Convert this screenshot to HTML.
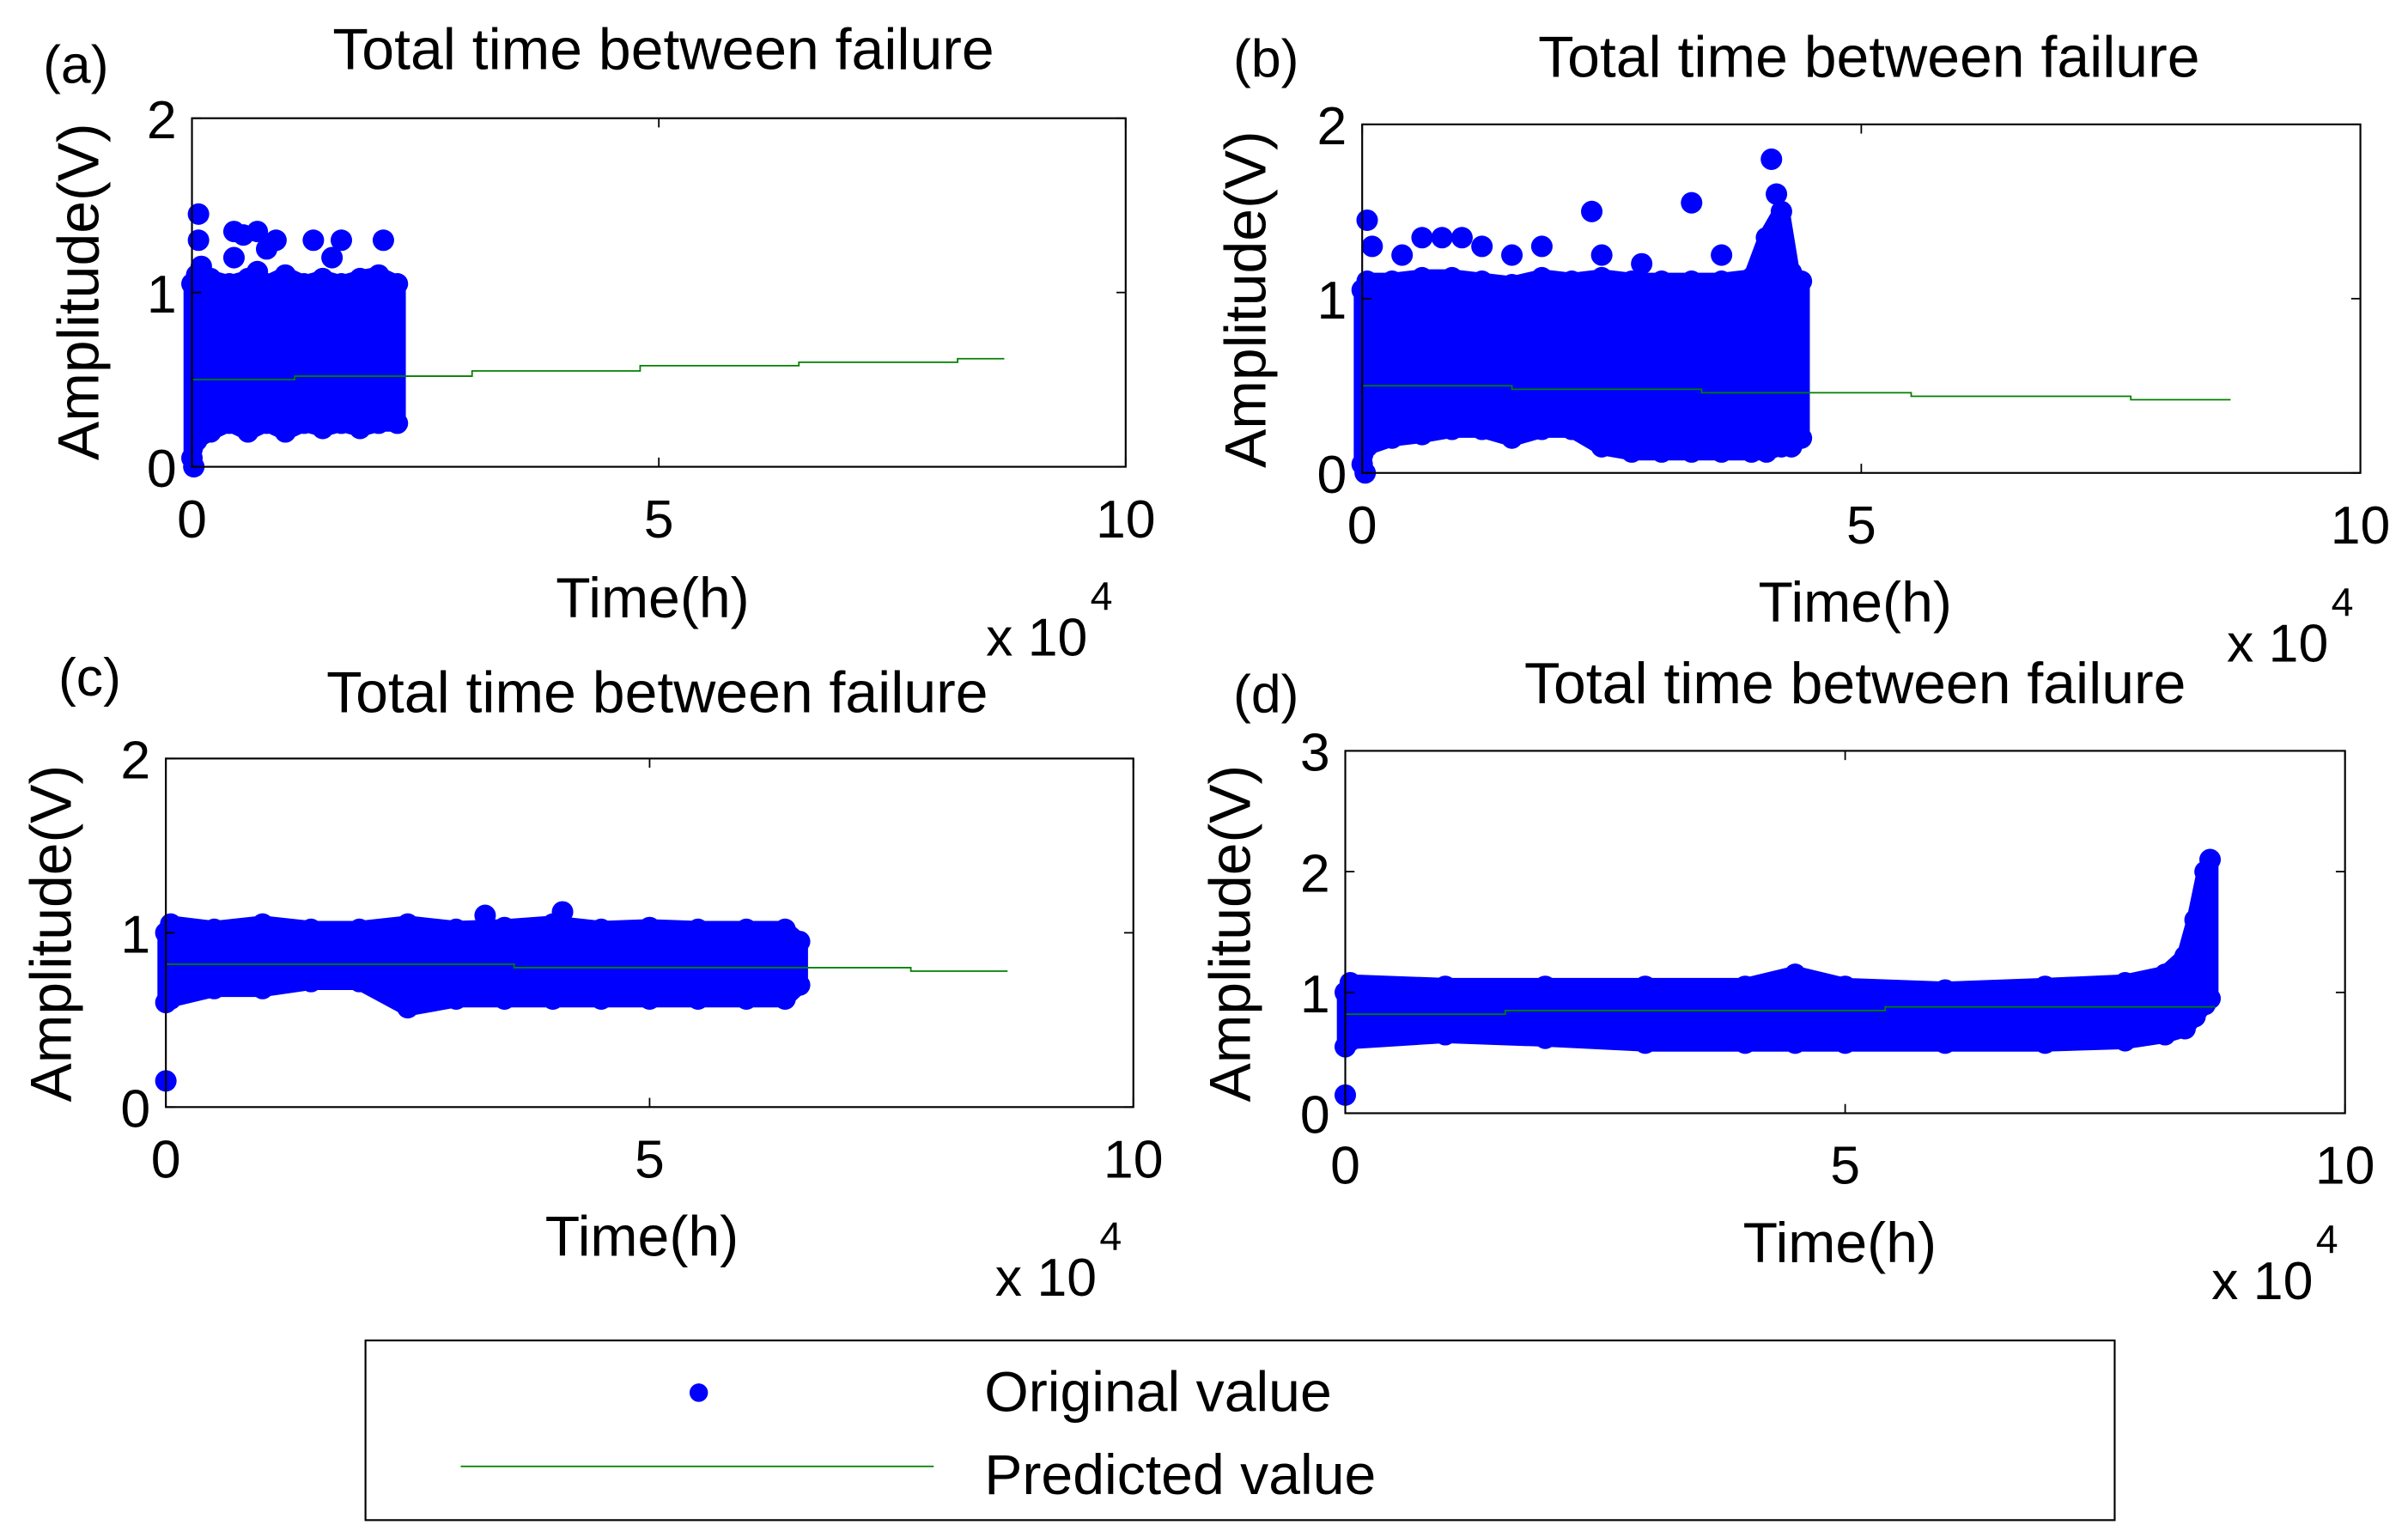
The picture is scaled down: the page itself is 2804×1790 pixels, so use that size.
<!DOCTYPE html>
<html><head><meta charset="utf-8"><style>
html,body{margin:0;padding:0;background:#fff;}
svg{display:block;}
text{font-family:"Liberation Sans",Arial,sans-serif;fill:#000;}
</style></head><body>
<svg id="fig" width="2804" height="1790" viewBox="0 0 1568 1001" preserveAspectRatio="none" xmlns="http://www.w3.org/2000/svg"></svg>
<script>
// ---- data (time in x10^4 h, amplitude in V) ----
const panelLabels = ["(a)","(b)","(c)","(d)"];
const xTicks = [0,5,10];
const yTicksA = [0,1,2];
const yTicksD = [0,1,2,3];
// band envelopes of original values
const aTime  = [0,0.05,0.2,0.4,0.6,0.8,1.0,1.2,1.4,1.6,1.8,2.0,2.2];
const aUpper = [1.05,1.1,1.08,1.05,1.08,1.05,1.1,1.05,1.08,1.05,1.08,1.1,1.05];
const aLower = [0.05,0.15,0.2,0.25,0.2,0.25,0.2,0.25,0.22,0.25,0.22,0.25,0.25];
const aOutX = [0.02,0.07,0.07,0.1,0.45,0.55,0.7,0.9,1.3,1.6,2.05,0.45,1.5,0.8,0.7];
const aOutY = [0.0,1.45,1.3,1.15,1.35,1.33,1.35,1.3,1.3,1.3,1.3,1.2,1.2,1.25,1.12];
const bTime  = [0,0.05,0.3,0.6,0.9,1.2,1.5,1.8,2.1,2.4,2.7,3.0,3.3,3.6,3.9,4.05,4.2,4.3,4.4];
const bUpper = [1.05,1.1,1.1,1.12,1.12,1.1,1.08,1.12,1.1,1.12,1.1,1.1,1.1,1.1,1.12,1.35,1.5,1.15,1.1];
const bLower = [0.05,0.15,0.2,0.22,0.25,0.25,0.2,0.25,0.25,0.15,0.12,0.12,0.12,0.12,0.12,0.12,0.15,0.15,0.2];
const bOutX = [0.03,0.05,0.1,0.4,0.6,0.8,1.0,1.2,1.5,1.8,2.3,2.4,2.8,3.3,3.6,4.1,4.15];
const bOutY = [0.0,1.45,1.3,1.25,1.35,1.35,1.35,1.3,1.25,1.3,1.5,1.25,1.2,1.55,1.25,1.8,1.6];
const cTime  = [0,0.05,0.5,1.0,1.5,2.0,2.5,3.0,3.5,4.0,4.5,5.0,5.5,6.0,6.4,6.55];
const cUpper = [1.0,1.05,1.02,1.05,1.02,1.02,1.05,1.02,1.03,1.05,1.02,1.03,1.02,1.02,1.02,0.95];
const cLower = [0.6,0.62,0.68,0.68,0.72,0.72,0.57,0.62,0.62,0.62,0.62,0.62,0.62,0.62,0.62,0.7];
const cOutX = [0.0,3.3,4.1];
const cOutY = [0.15,1.1,1.12];
const dTime  = [0,0.05,1.0,2.0,3.0,4.0,4.5,5.0,6.0,7.0,7.8,8.2,8.4,8.5,8.6,8.65];
const dUpper = [1.0,1.08,1.05,1.05,1.05,1.05,1.15,1.05,1.02,1.05,1.08,1.15,1.3,1.6,2.0,2.1];
const dLower = [0.55,0.6,0.65,0.62,0.58,0.58,0.58,0.58,0.58,0.58,0.6,0.65,0.7,0.8,0.9,0.95];
const dOutX = [0.0];
const dOutY = [0.15];
// predicted step lines (breakpoints and values)
const aPredX = [0,1.1,3.0,4.8,6.5,8.2,8.7];
const aPredY = [0.5,0.52,0.55,0.58,0.6,0.62];
const bPredX = [0,1.5,3.4,5.5,7.7,8.7];
const bPredY = [0.5,0.48,0.46,0.44,0.42];
const cPredX = [0,3.6,7.7,8.7];
const cPredY = [0.82,0.8,0.78];
const dPredX = [0,1.6,5.4,8.7];
const dPredY = [0.82,0.85,0.88];

const NS="http://www.w3.org/2000/svg";
const svg=document.getElementById('fig');
function mk(tag,attrs,parent){const e=document.createElementNS(NS,tag);for(const k in attrs)e.setAttribute(k,attrs[k]);(parent||svg).appendChild(e);return e;}

const panels=[
 {box:[125,77,733,304],ymax:2,yt:yTicksA,t:aTime,u:aUpper,l:aLower,ox:aOutX,oy:aOutY,px:aPredX,py:aPredY,start:null,
  title:[432,45],lab:[28,54],ylab:[64,190],xlab:[425,402],exp:[642,427],name:'panel-a'},
 {box:[887,81,1537,308],ymax:2,yt:yTicksA,t:bTime,u:bUpper,l:bLower,ox:bOutX,oy:bOutY,px:bPredX,py:bPredY,start:0,
  title:[1217,50],lab:[803,50],ylab:[824,195],xlab:[1208,405],exp:[1450,431],name:'panel-b'},
 {box:[108,494,738,721],ymax:2,yt:yTicksA,t:cTime,u:cUpper,l:cLower,ox:cOutX,oy:cOutY,px:cPredX,py:cPredY,start:0.15,
  title:[428,464],lab:[38,453],ylab:[46,608],xlab:[418,818],exp:[648,844],name:'panel-c'},
 {box:[876,489,1527,725],ymax:3,yt:yTicksD,t:dTime,u:dUpper,l:dLower,ox:dOutX,oy:dOutY,px:dPredX,py:dPredY,start:0.15,
  title:[1208,458],lab:[803,464],ylab:[814,608],xlab:[1198,822],exp:[1440,846],name:'panel-d'}
];
const R=7, BR=5.5, BLUE='#0000ff', GREEN='#008000';
panels.forEach((p,i)=>{
  const [x0,y0,x1,y1]=p.box;
  const g=mk('g',{});
  
  
  const X=v=>x0+(x1-x0)*v/10, Y=v=>y1-(y1-y0)*v/p.ymax;
  mk('rect',{x:x0,y:y0,width:x1-x0,height:y1-y0,fill:'#fff',stroke:'none'},g);
  let pts=p.t.map((t,k)=>X(t)+','+Y(p.u[k])).concat(p.t.slice().reverse().map((t,k)=>X(t)+','+Y(p.l[p.t.length-1-k])));
  const band=mk('polygon',{points:pts.join(' '),fill:BLUE,stroke:BLUE,'stroke-width':2*BR,'stroke-linejoin':'round'},g);
  
  
  p.t.forEach((t,k)=>{
    const c1=mk('circle',{cx:X(t),cy:Y(p.u[k]),r:R,fill:BLUE},g);
    
    
    const c2=mk('circle',{cx:X(t),cy:Y(p.l[k]),r:R,fill:BLUE},g);
    
    
  });
  p.ox.forEach((xv,k)=>{
    const c=mk('circle',{cx:X(xv),cy:Y(p.oy[k]),r:R,fill:BLUE},g);
    
    
  });
  let d='';
  if(p.start!==null){d+='M'+X(p.px[0])+','+Y(p.start)+' L'+X(p.px[0])+','+Y(p.py[0]);}
  else d+='M'+X(p.px[0])+','+Y(p.py[0]);
  p.py.forEach((v,k)=>{d+=' L'+X(p.px[k])+','+Y(v)+' L'+X(p.px[k+1])+','+Y(v);});
  const pl=mk('path',{d:d,fill:'none',stroke:GREEN,'stroke-width':1},g);
  
  
  const bx=mk('rect',{x:x0,y:y0,width:x1-x0,height:y1-y0,fill:'none',stroke:'#000','stroke-width':1.2},g);
  
  
  xTicks.forEach(v=>{
    mk('line',{x1:X(v),x2:X(v),y1:y1,y2:y1-6,stroke:'#000'},g);
    mk('line',{x1:X(v),x2:X(v),y1:y0,y2:y0+6,stroke:'#000'},g);
    const t=mk('text',{x:X(v),y:y1+46,'font-size':35,'text-anchor':'middle'},g);t.textContent=v;
    
    
  });
  p.yt.forEach(v=>{
    mk('line',{x1:x0,x2:x0+6,y1:Y(v),y2:Y(v),stroke:'#000'},g);
    mk('line',{x1:x1,x2:x1-6,y1:Y(v),y2:Y(v),stroke:'#000'},g);
    const t=mk('text',{x:x0-10,y:Y(v)+13,'font-size':35,'text-anchor':'end'},g);t.textContent=v;
    
    
  });
  const ti=mk('text',{x:p.title[0],y:p.title[1],'font-size':38,'text-anchor':'middle'},g);ti.textContent='Total time between failure';
  
  
  const lb=mk('text',{x:p.lab[0],y:p.lab[1],'font-size':35},g);lb.textContent=panelLabels[i];
  
  
  const yl=mk('text',{x:0,y:0,'font-size':38,'text-anchor':'middle',transform:'translate('+p.ylab[0]+','+p.ylab[1]+') rotate(-90)'},g);yl.textContent='Amplitude(V)';
  
  
  const xl=mk('text',{x:p.xlab[0],y:p.xlab[1],'font-size':37,'text-anchor':'middle'},g);xl.textContent='Time(h)';
  
  
  const ex=mk('text',{x:p.exp[0],y:p.exp[1],'font-size':35},g);ex.textContent='x 10';
  
  
  const e4=mk('text',{x:p.exp[0]+68,y:p.exp[1]-30,'font-size':26},g);e4.textContent='4';
  
  
});
const lg=mk('g',{});


mk('rect',{x:238,y:873,width:1139,height:117,fill:'#fff',stroke:'#000','stroke-width':1.2},lg);
const lm=mk('circle',{cx:455,cy:907,r:6,fill:BLUE},lg);


const ll=mk('line',{x1:300,x2:608,y1:955,y2:955,stroke:GREEN,'stroke-width':1},lg);


const t1=mk('text',{x:641,y:919,'font-size':37},lg);t1.textContent='Original value';


const t2=mk('text',{x:641,y:973,'font-size':37},lg);t2.textContent='Predicted value';


</script>
</body></html>
